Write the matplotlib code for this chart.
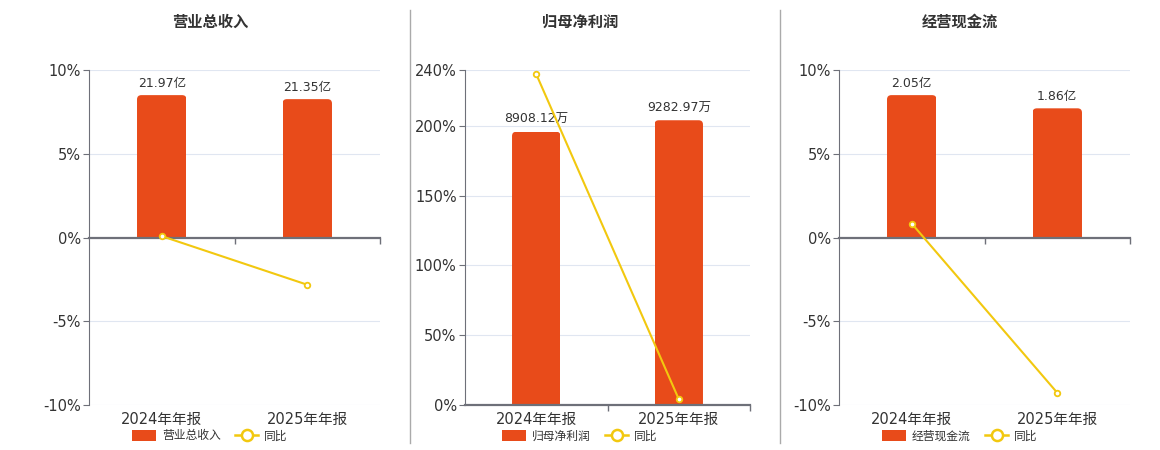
import matplotlib
matplotlib.use('Agg')
import matplotlib.pyplot as plt
from matplotlib.patches import FancyBboxPatch
from matplotlib.lines import Line2D
import numpy as np

plt.rcParams['font.family'] = ['DejaVu Sans', 'Noto Sans CJK SC']

# data
periods = ['2024年年报', '2025年年报']
titles = ['营业总收入', '归母净利润', '经营现金流']
bar_values = [[21.97, 21.35], [8908.12, 9282.97], [2.05, 1.86]]
bar_units = ['亿', '万', '亿']
yoy_values = [[0.08, -2.82], [237.0, 4.21], [0.83, -9.27]]
y_ticks = [[-10, -5, 0, 5, 10], [0, 50, 100, 150, 200, 240], [-10, -5, 0, 5, 10]]

BAR_COLOR = '#E84B1A'
LINE_COLOR = '#F2C80F'
GRID_COLOR = '#E0E6F1'
AXIS_COLOR = '#6E7079'
TEXT_COLOR = '#333333'

W, H = 1160, 450
fig = plt.figure(figsize=(W / 100, H / 100), dpi=100)

# axes boxes in pixels: left, right, top, bottom; title/legend centre x
boxes = [(89, 380, 70, 405, 210), (465, 750, 70, 405, 580), (839, 1130, 70, 405, 960)]

for i, (l, r, t, b, cx) in enumerate(boxes):
    ax = fig.add_axes([l / W, 1 - b / H, (r - l) / W, (b - t) / H])
    axb = ax.twinx()
    axl = ax.twinx()
    x = np.arange(len(periods))
    lo, hi = y_ticks[i][0], y_ticks[i][-1]

    # percent axis (grid + left ticks + category labels)
    ax.set_xlim(-0.5, len(periods) - 0.5)
    ax.set_ylim(lo, hi)
    ax.set_yticks(y_ticks[i])
    ax.set_yticklabels([f'{v}%' for v in y_ticks[i]])
    ax.yaxis.grid(True, color=GRID_COLOR, linewidth=0.8)
    ax.set_axisbelow(True)
    for s in ['top', 'right', 'bottom']:
        ax.spines[s].set_visible(False)
    ax.spines['left'].set_color(AXIS_COLOR)
    ax.tick_params(axis='y', length=4, color=AXIS_COLOR, labelsize=10.5, labelcolor=TEXT_COLOR, pad=2)
    ax.set_xticks(x)
    ax.set_xticklabels(periods, fontsize=10.5, color=TEXT_COLOR)
    ax.set_xticks([0.5, 1.5], minor=True)
    ax.tick_params(axis='x', which='both', length=0, pad=5)

    # bar axis, zero aligned with the percent zero, highest bar at 85% of positive span
    frac0 = -lo / (hi - lo)
    top = max(bar_values[i]) / 0.85
    bot = -top * frac0 / (1 - frac0)
    axb.set_ylim(bot, top)
    axb.set_axis_off()
    bars = axb.bar(x, bar_values[i], width=0.34, color=BAR_COLOR)
    px_x = (r - l) / len(periods)
    px_y = (b - t) / (top - bot)
    aspect = px_x / px_y
    rx = 0.03
    for rect, v in zip(bars, bar_values[i]):
        rect.set_visible(False)
        pad = (top - bot) * 0.05
        p = FancyBboxPatch((rect.get_x(), -pad), rect.get_width(), v + pad,
                           boxstyle=f'round,pad=0,rounding_size={rx}',
                           mutation_aspect=aspect, facecolor=BAR_COLOR,
                           edgecolor='none')
        axb.add_patch(p)
        p.set_clip_path(rect)
        axb.annotate(f'{v:.2f}{bar_units[i]}', (rect.get_x() + rect.get_width() / 2, v),
                     xytext=(0, 4), textcoords='offset points', ha='center', va='bottom',
                     fontsize=9, color=TEXT_COLOR)

    # line axis, same scale as percent axis; its bottom spine is the zero line
    axl.set_ylim(lo, hi)
    axl.xaxis.set_visible(True)
    for s in ['top', 'right', 'left']:
        axl.spines[s].set_visible(False)
    axl.spines['bottom'].set_visible(True)
    axl.spines['bottom'].set_position(('data', 0))
    axl.spines['bottom'].set_color(AXIS_COLOR)
    axl.spines['bottom'].set_linewidth(1.6)
    axl.set_yticks([])
    axl.xaxis.set_ticks_position('bottom')
    axl.tick_params(axis='x', which='major', length=0, labelbottom=False)
    axl.tick_params(axis='x', which='minor', length=4, width=1, color=AXIS_COLOR, labelbottom=False)
    axl.plot(x, yoy_values[i], color=LINE_COLOR, linewidth=1.5, marker='o', markersize=4,
             markerfacecolor='white', markeredgecolor=LINE_COLOR, markeredgewidth=1.3,
             zorder=3, clip_on=False)

    fig.text(cx / W, 1 - 22 / H, titles[i], ha='center', va='center', fontsize=11,
             fontweight='bold', color=TEXT_COLOR)

    handles = [FancyBboxPatch((0, 0), 1, 1, boxstyle='round,pad=0,rounding_size=0.2',
                              facecolor=BAR_COLOR, edgecolor='none'),
               Line2D([], [], color=LINE_COLOR, linewidth=1.8, marker='o', markersize=8,
                      markerfacecolor='white', markeredgewidth=1.8)]
    axl.legend(handles, [titles[i], '同比'], loc='center', ncol=2, frameon=False,
               bbox_to_anchor=(cx / W, 1 - 436 / H), bbox_transform=fig.transFigure,
               fontsize=8.5, labelcolor=TEXT_COLOR, handlelength=2.0, handleheight=1.1,
               handletextpad=0.5, columnspacing=1.2, borderpad=0)

# dividers
for xd in [410, 780]:
    fig.add_artist(Line2D([xd / W, xd / W], [1 - 10 / H, 1 - 443 / H], color='#AAAAAA',
                          linewidth=1, transform=fig.transFigure))

fig.savefig('out.png', dpi=100)
